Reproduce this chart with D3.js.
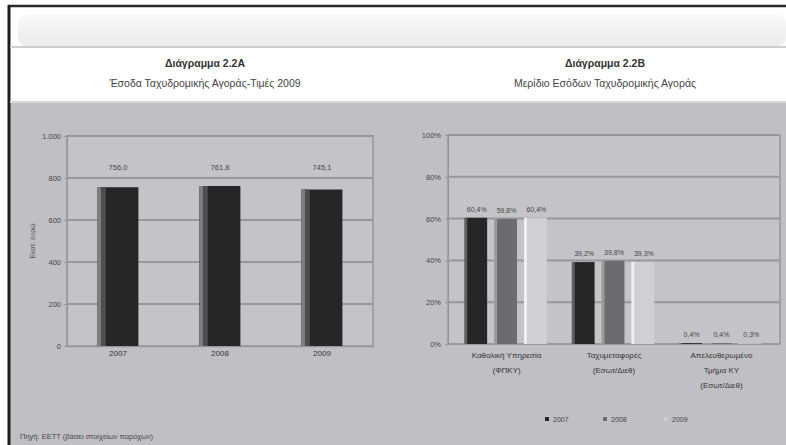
<!DOCTYPE html>
<html><head><meta charset="utf-8">
<script src="https://cdn.jsdelivr.net/npm/d3@7"></script>
<style>
html,body{margin:0;padding:0;background:#fff;}
svg{display:block;font-family:"Liberation Sans",Arial,sans-serif;}
</style></head>
<body><svg id="c" width="786" height="445"></svg>
<script>
// ---- data ----
const revenueYears = ["2007","2008","2009"];
const revenueValues = [756.0, 761.8, 745.1];
const revenueLabels = ["756,0","761,8","745,1"];
const revenueTicks = [0,200,400,600,800,1000];
const revenueTickLabels = ["0","200","400","600","800","1.000"];

const shareCategories = [
  ["Καθολική Υπηρεσία","(ΦΠΚΥ)"],
  ["Ταχυμεταφορές","(Εσωτ/Διεθ)"],
  ["Απελευθερωμένο","Τμήμα ΚΥ","(Εσωτ/Διεθ)"]
];
const shareSeries = ["2007","2008","2009"];
const share2007 = [60.4, 39.2, 0.4];
const share2008 = [59.8, 39.8, 0.4];
const share2009 = [60.4, 39.3, 0.3];
const shareTicks = [0,20,40,60,80,100];

const svg = d3.select("#c");
const PANEL = "#c0c0c4", GRID = "#97979b";

// frame
svg.append("rect").attr("x",9).attr("y",103).attr("width",777).attr("height",342).attr("fill",PANEL);
svg.append("line").attr("x1",8).attr("x2",786).attr("y1",6).attr("y2",6).attr("stroke","#2a2a2a").attr("stroke-width",2.5);
svg.append("line").attr("x1",9).attr("x2",9).attr("y1",5).attr("y2",445).attr("stroke","#1e1e1e").attr("stroke-width",3);
const g0 = svg.append("defs").append("linearGradient").attr("id","hdr").attr("x1",0).attr("x2",0).attr("y1",0).attr("y2",1);
g0.append("stop").attr("offset","0%").attr("stop-color","#f8f8f8");
g0.append("stop").attr("offset","100%").attr("stop-color","#ebebeb");
svg.append("rect").attr("x",18).attr("y",15).attr("width",768).attr("height",31).attr("rx",8).attr("fill","url(#hdr)");
svg.append("line").attr("x1",10).attr("x2",786).attr("y1",47).attr("y2",47).attr("stroke","#cdcdcd").attr("stroke-width",2);
svg.append("line").attr("x1",10).attr("x2",786).attr("y1",102).attr("y2",102).attr("stroke","#d8d8d8").attr("stroke-width",2);

// titles
function titles(cx, t1, t2){
  svg.append("text").attr("x",cx).attr("y",67).attr("text-anchor","middle").attr("font-size",10.5).attr("font-weight","bold").attr("fill","#333").text(t1);
  svg.append("text").attr("x",cx).attr("y",87).attr("text-anchor","middle").attr("font-size",10.5).attr("fill","#444").text(t2);
}
titles(205,"Διάγραμμα 2.2Α","Έσοδα Ταχυδρομικής Αγοράς-Τιμές 2009");
titles(605,"Διάγραμμα 2.2Β","Μερίδιο Εσόδων Ταχυδρομικής Αγοράς");

// ---- left chart ----
const L = {x0:67, x1:373, y0:346, y1:136};
const xL = d3.scaleBand().domain(revenueYears).range([L.x0,L.x1]).paddingInner(0.6).paddingOuter(0.3);
const yL = d3.scaleLinear().domain([0,1000]).range([L.y0,L.y1]);
const left = svg.append("g");
left.append("rect").attr("x",L.x0).attr("y",L.y1).attr("width",L.x1-L.x0).attr("height",L.y0-L.y1).attr("fill","#c4c4c8").attr("stroke",GRID).attr("stroke-width",1.5);
left.selectAll(".gl").data(revenueTicks.slice(1)).join("line")
  .attr("x1",L.x0).attr("x2",L.x1).attr("y1",d=>yL(d)).attr("y2",d=>yL(d)).attr("stroke",GRID).attr("stroke-width",2);
const axL = left.append("g").attr("transform",`translate(${L.x0},0)`)
  .call(d3.axisLeft(yL).tickValues(revenueTicks).tickFormat((d,i)=>revenueTickLabels[i]).tickSize(3).tickPadding(3));
axL.select(".domain").attr("stroke",GRID);
axL.selectAll("line").attr("stroke",GRID);
axL.selectAll("text").attr("font-size",7.5).attr("fill","#444").attr("font-family","Liberation Sans, Arial");
const axLB = left.append("g").attr("transform",`translate(0,${L.y0})`)
  .call(d3.axisBottom(xL).tickSize(0).tickPadding(4));
axLB.select(".domain").attr("stroke",GRID).attr("stroke-width",1.5);
axLB.selectAll("text").attr("font-size",8).attr("fill","#333").attr("font-family","Liberation Sans, Arial");
left.append("text").attr("transform","translate(35,241) rotate(-90)").attr("text-anchor","middle").attr("font-size",7).attr("fill","#555").text("Εκατ. ευρώ");

const barsL = left.selectAll(".b").data(revenueValues).join("g");
barsL.append("rect").attr("x",(d,i)=>xL(revenueYears[i])).attr("y",d=>yL(d)).attr("width",xL.bandwidth()).attr("height",d=>L.y0-yL(d)).attr("fill","#262626");
barsL.append("rect").attr("x",(d,i)=>xL(revenueYears[i])).attr("y",d=>yL(d)).attr("width",xL.bandwidth()*0.2).attr("height",d=>L.y0-yL(d)).attr("fill","#4e4e50");
barsL.append("rect").attr("x",(d,i)=>xL(revenueYears[i])).attr("y",d=>yL(d)).attr("width",xL.bandwidth()*0.08).attr("height",d=>L.y0-yL(d)).attr("fill","#808082");
left.selectAll(".lbl").data(revenueValues).join("text")
  .attr("x",(d,i)=>xL(revenueYears[i])+xL.bandwidth()/2).attr("y",yL(838)).attr("text-anchor","middle")
  .attr("font-size",7.5).attr("fill","#444").text((d,i)=>revenueLabels[i]);

// ---- right chart ----
const R = {x0:448, x1:780, y0:344, y1:135};
const xR = d3.scaleBand().domain(d3.range(shareCategories.length)).range([R.x0,R.x1]).paddingInner(0.25).paddingOuter(0.17);
const xS = d3.scaleBand().domain(shareSeries).range([0,xR.bandwidth()]).paddingInner(0.3);
const yR = d3.scaleLinear().domain([0,100]).range([R.y0,R.y1]);
const right = svg.append("g");
right.append("rect").attr("x",R.x0).attr("y",R.y1).attr("width",R.x1-R.x0).attr("height",R.y0-R.y1).attr("fill","#c4c4c8").attr("stroke",GRID).attr("stroke-width",1.5);
right.selectAll(".gl").data(shareTicks.slice(1)).join("line")
  .attr("x1",R.x0).attr("x2",R.x1).attr("y1",d=>yR(d)).attr("y2",d=>yR(d)).attr("stroke",GRID).attr("stroke-width",2);
const axR = right.append("g").attr("transform",`translate(${R.x0},0)`)
  .call(d3.axisLeft(yR).tickValues(shareTicks).tickFormat(d=>d+"%").tickSize(3).tickPadding(4));
axR.select(".domain").attr("stroke",GRID);
axR.selectAll("line").attr("stroke",GRID);
axR.selectAll("text").attr("font-size",7.5).attr("fill","#444").attr("font-family","Liberation Sans, Arial");
right.append("line").attr("x1",R.x0).attr("x2",R.x1).attr("y1",R.y0).attr("y2",R.y0).attr("stroke",GRID).attr("stroke-width",1.5);

const seriesData = [share2007, share2008, share2009];
const fills = ["#262626","#6c6c6e","#d0d0d4"];
const edges = ["#606062","#9a9a9c","#f0f0f2"];
const fmt = v => v.toFixed(1).replace(".",",")+"%";
seriesData.forEach((vals,s)=>{
  const gs = right.append("g");
  gs.selectAll("rect.m").data(vals).join("rect").attr("class","m")
    .attr("x",(d,i)=>xR(i)+xS(shareSeries[s])).attr("y",d=>yR(d)).attr("width",xS.bandwidth()).attr("height",d=>R.y0-yR(d)).attr("fill",fills[s]);
  gs.selectAll("rect.e").data(vals).join("rect").attr("class","e")
    .attr("x",(d,i)=>xR(i)+xS(shareSeries[s])-2).attr("y",d=>yR(d)).attr("width",3).attr("height",d=>R.y0-yR(d)).attr("fill",edges[s]);
  gs.selectAll("text").data(vals).join("text")
    .attr("x",(d,i)=>xR(i)+xS(shareSeries[s])+xS.bandwidth()/2).attr("y",d=>yR(d)-6)
    .attr("text-anchor","middle").attr("font-size",7).attr("fill","#444").text(d=>fmt(d));
});
const cat = right.selectAll(".cat").data(shareCategories).join("text")
  .attr("text-anchor","middle").attr("font-size",8).attr("fill","#333");
cat.each(function(lines,i){
  d3.select(this).selectAll("tspan").data(lines).join("tspan")
    .attr("x",xR(i)+xR.bandwidth()/2).attr("y",(d,j)=>358+j*15).text(d=>d);
});

// legend
const legX = [545,603,664];
shareSeries.forEach((s,i)=>{
  svg.append("rect").attr("x",legX[i]).attr("y",417).attr("width",4).attr("height",4).attr("fill",fills[i]);
  svg.append("text").attr("x",legX[i]+8).attr("y",422).attr("font-size",7).attr("fill","#444").text(s);
});

// source
svg.append("text").attr("x",20).attr("y",439).attr("font-size",7.5).attr("fill","#444").text("Πηγή: ΕΕΤΤ (βάσει στοιχείων παρόχων)");
</script></body></html>
